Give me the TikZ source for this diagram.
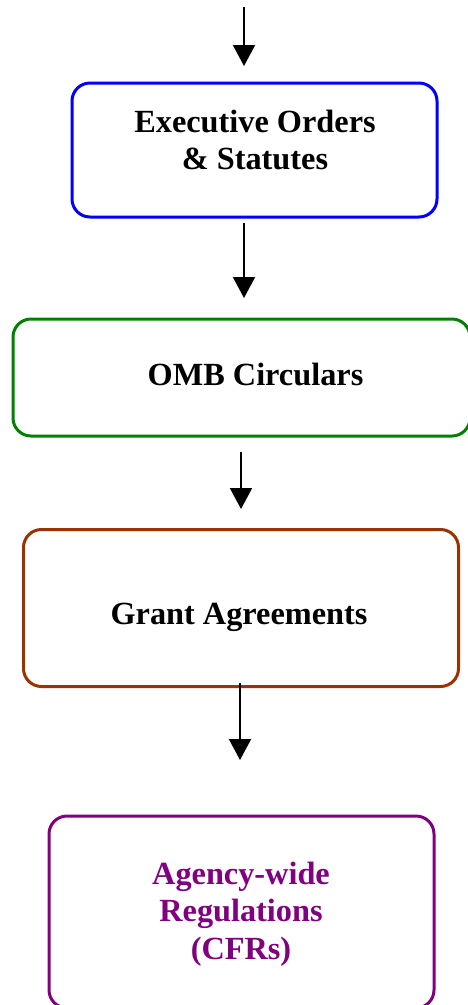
\documentclass[tikz,border=0pt]{standalone}
\usepackage{fontspec}
\setmainfont{Liberation Serif}
\usetikzlibrary{arrows.meta}
\definecolor{ombgreen}{RGB}{0,128,0}
\definecolor{grantbrown}{RGB}{153,51,0}
\definecolor{cfrpurple}{RGB}{128,0,128}
\tikzset{
  regbox/.style={draw=#1, line width=3pt, rounded corners=18pt, inner sep=0pt},
  regtext/.style={font=\fontsize{32.3}{37.5}\selectfont\bfseries, align=center, inner sep=0pt},
  flow/.style={line width=2pt, -{Triangle[width=22pt,length=21pt]}}
}
\begin{document}
\begin{tikzpicture}[x=1pt,y=-1pt]
        \useasboundingbox (0,0) rectangle (468,1005);
        \node[regbox=blue, minimum width=365pt, minimum height=134pt] (exec) at (254.5,150) {};
        \node[regbox=ombgreen, minimum width=457pt, minimum height=117pt] (omb) at (241.5,377.5) {};
        \node[regbox=grantbrown, minimum width=435pt, minimum height=157pt] (grant) at (241,608) {};
        \node[regbox=cfrpurple, minimum width=385pt, minimum height=192pt] (cfr) at (241.5,912) {};
        \node[regtext] (execText) at (255,140) {Executive Orders\\\& Statutes};
        \node[regtext] (ombText) at (255.5,374.5) {OMB Circulars};
        \node[regtext] (grantText) at (239,617) {Grant Agreements};
        \node[regtext, text=cfrpurple] (cfrText) at (241,914) {Agency-wide\\Regulations\\(CFRs)};
        \coordinate (src) at (244,7);
        \coordinate (tip1) at (244,66);
        \coordinate (tip2) at (244,298);
        \coordinate (tip3) at (241,509);
        \coordinate (tip4) at (240,760);
        \draw[flow] (src) -- (tip1);
        \draw[flow, shorten <=4pt] (exec.south -| tip2) -- (tip2);
        \draw[flow, shorten <=14pt] (omb.south -| tip3) -- (tip3);
        \draw[flow, shorten <=-5pt] (grant.south -| tip4) -- (tip4);
    \end{tikzpicture}
\end{document}
